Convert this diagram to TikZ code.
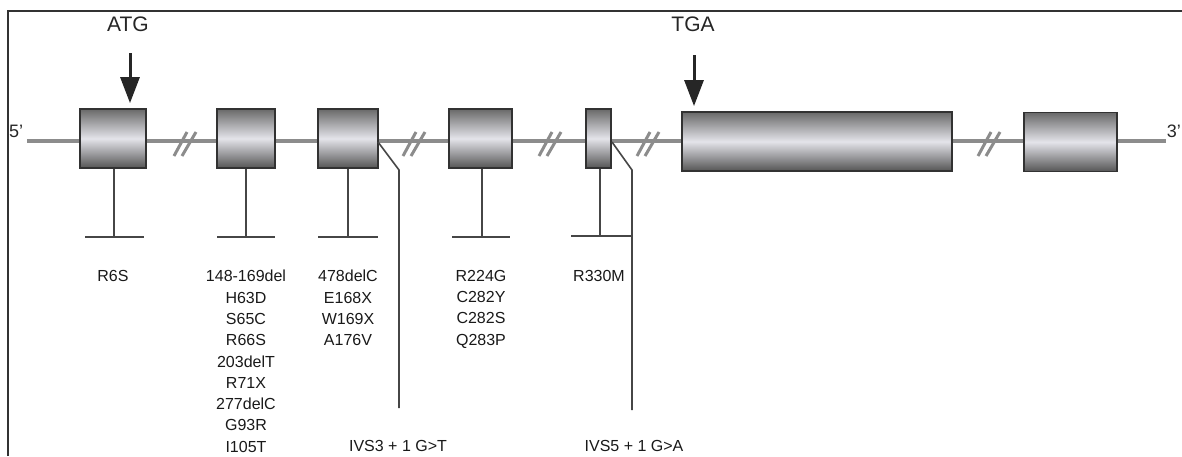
\documentclass[tikz,border=0pt]{standalone}
\usepackage{fontspec}
\setmainfont{Liberation Sans}
\usetikzlibrary{arrows.meta}
\definecolor{bb}{RGB}{140,140,140}
\definecolor{frame}{RGB}{50,50,50}
\definecolor{exedge}{RGB}{50,50,50}
\definecolor{extop}{RGB}{105,105,105}
\definecolor{exmid}{RGB}{228,228,234}
\definecolor{exbot}{RGB}{85,85,85}
\definecolor{ln}{RGB}{70,70,70}
\tikzset{
  exon/.style={draw=exedge, line width=1.8pt, inner sep=0pt, minimum height=59pt,
    top color=extop, bottom color=exbot, middle color=exmid},
  stem/.style={draw=ln, line width=1.6pt},
  backbone/.style={draw=bb, line width=4pt},
  lab/.style={font=\fontsize{16}{21.3}\selectfont, align=center, inner sep=0pt, text=black!90},
  big/.style={font=\fontsize{21}{24}\selectfont, inner sep=0pt, text=black!85},
  pointer/.style={line width=3pt, black!85, -{Triangle[length=26pt,width=19pt]}, shorten >=5pt},
  brk/.pic={
    \draw[bb, line width=3pt] (-11,14) -- (2,-10);
    \draw[bb, line width=3pt] (-3,14) -- (11,-10);
  }
}
\begin{document}
\begin{tikzpicture}[x=1pt,y=-1pt]
\useasboundingbox (0,0) rectangle (1182,456);
% frame
\draw[frame, line width=2pt] (8,456) -- (8,11) -- (1182,11);
% backbone
\coordinate (five) at (27,141);
\coordinate (three) at (1166,141);
\draw[backbone] (five) -- (three);
\node[big, anchor=west, font=\fontsize{18}{20}\selectfont] (l5) at (9,131) {5'};
\node[big, anchor=east, font=\fontsize{18}{20}\selectfont] (l3) at (1181,131) {3'};
% breaks
\pic at (185,142) {brk};
\pic at (414,142) {brk};
\pic at (550,142) {brk};
\pic at (648,142) {brk};
\pic at (989,142) {brk};
% exons
\node[exon, minimum width=66pt] (e1) at (113,138.5) {};
\node[exon, minimum width=58pt] (e2) at (246,138.5) {};
\node[exon, minimum width=60pt] (e3) at (348,138.5) {};
\node[exon, minimum width=63pt] (e4) at (480.5,138.5) {};
\node[exon, minimum width=25pt] (e5) at (598.5,138.5) {};
\node[exon, minimum width=270pt] (e6) at (817,141.5) {};
\node[exon, minimum width=93pt] (e7) at (1070.5,142) {};
% start / stop
\node[big] (atg) at (128,24) {ATG};
\node[big] (tga) at (693,24) {TGA};
\coordinate (a1) at (130,53);
\coordinate (a2) at (694,55);
\draw[pointer] (a1) -- (a1 |- e1.north);
\draw[pointer] (a2) -- (a2 |- e6.north);
% stems and bars
\coordinate (s1) at (114,237); \coordinate (s1l) at (85,237); \coordinate (s1r) at (144,237);
\coordinate (s2) at (246,237); \coordinate (s2l) at (217,237); \coordinate (s2r) at (275,237);
\coordinate (s3) at (348,237); \coordinate (s3l) at (318,237); \coordinate (s3r) at (378,237);
\coordinate (s4) at (482,237); \coordinate (s4l) at (452,237); \coordinate (s4r) at (510,237);
\coordinate (s5) at (600,236); \coordinate (s5l) at (571,236); \coordinate (s5r) at (631,236);
\draw[stem] (s1 |- e1.south) -- (s1); \draw[stem] (s1l) -- (s1r);
\draw[stem] (s2 |- e2.south) -- (s2); \draw[stem] (s2l) -- (s2r);
\draw[stem] (s3 |- e3.south) -- (s3); \draw[stem] (s3l) -- (s3r);
\draw[stem] (s4 |- e4.south) -- (s4); \draw[stem] (s4l) -- (s4r);
\draw[stem] (s5 |- e5.south) -- (s5); \draw[stem] (s5l) -- (s5r);
% splice-site lines
\coordinate (i3a) at (378,142); \coordinate (i3b) at (399,170); \coordinate (i3c) at (399,408);
\coordinate (i5a) at (612,142); \coordinate (i5b) at (632,170); \coordinate (i5c) at (632,410);
\draw[stem] (i3a) -- (i3b) -- (i3c);
\draw[stem] (i5a) -- (i5b) -- (i5c);
% labels
\node[lab, anchor=north] (m1) at (113,270) {R6S};
\node[lab, anchor=north] (m2) at (246,270) {148-169del\\H63D\\S65C\\R66S\\203delT\\R71X\\277delC\\G93R\\I105T};
\node[lab, anchor=north] (m3) at (348,270) {478delC\\E168X\\W169X\\A176V};
\node[lab, anchor=north] (m4) at (481,270) {R224G\\C282Y\\C282S\\Q283P};
\node[lab, anchor=north] (m5) at (599,270) {R330M};
\node[lab] (ivs3) at (398,446) {IVS3 + 1 G>T};
\node[lab] (ivs5) at (634,446) {IVS5 + 1 G>A};
\end{tikzpicture}
\end{document}
